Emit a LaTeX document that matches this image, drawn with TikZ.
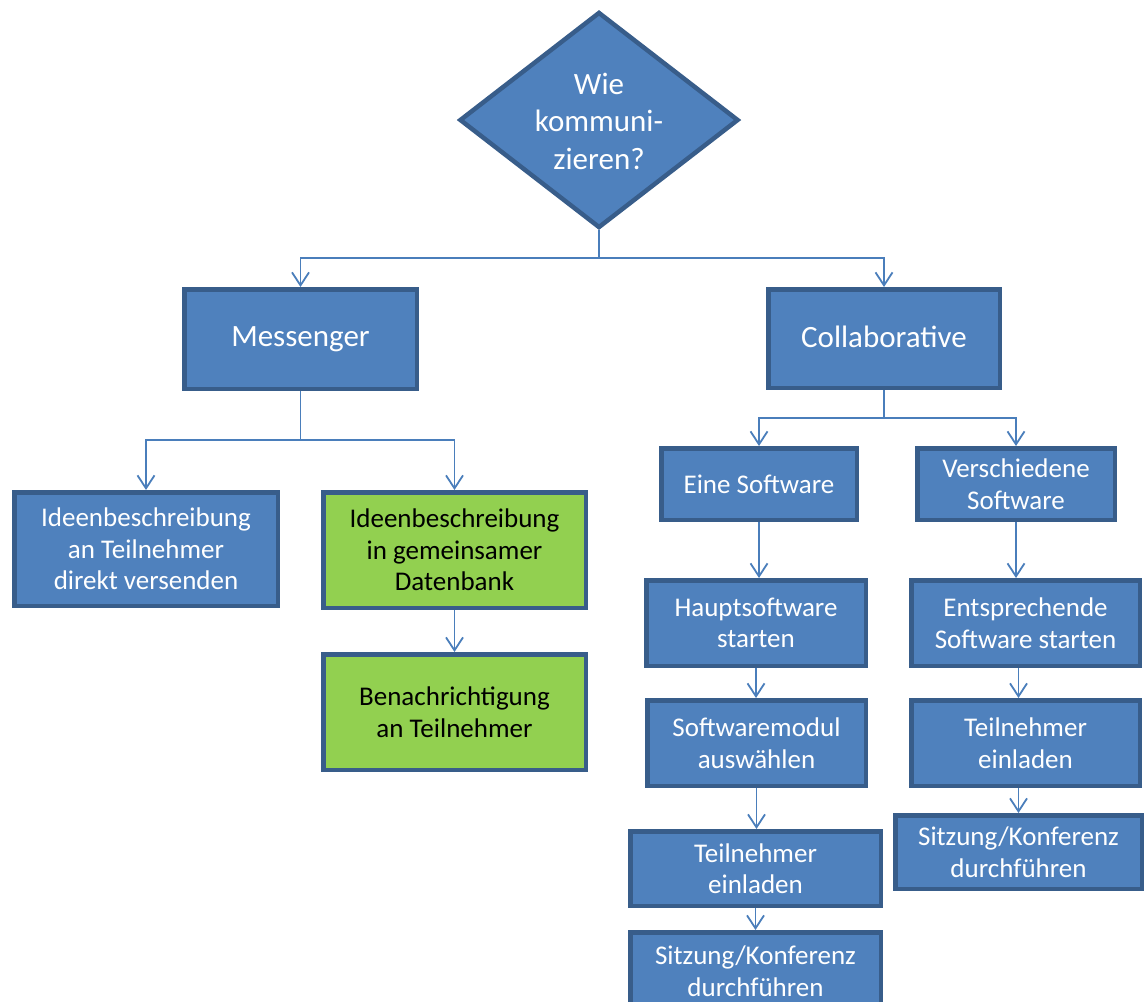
\documentclass[tikz,border=0pt]{standalone}
\usepackage{fontspec}
\setmainfont{Carlito}
\usetikzlibrary{shapes.geometric,arrows.meta}
\definecolor{bfill}{RGB}{79,129,189}
\definecolor{bdraw}{RGB}{56,93,138}
\definecolor{lcol}{RGB}{74,126,187}
\definecolor{gfill}{RGB}{146,208,80}
\begin{document}
\begin{tikzpicture}[x=1pt,y=-1pt,
  box/.style={draw=bdraw, line width=4.5pt, fill=bfill, text=white, align=center, inner sep=0pt, font=\fontsize{27}{31.5}\selectfont},
  bigbox/.style={box, font=\fontsize{31}{37}\selectfont, text depth=4pt},
  greenbox/.style={box, fill=gfill, text=black},
  conn/.style={draw=lcol, line width=1.8pt},
  arr/.style={conn, -{Straight Barb[length=13pt,width=17pt]}}]
\useasboundingbox (0,0) rectangle (1144,1002);
\clip (0,0) rectangle (1144,1002);
% decision
\node[diamond, draw=bdraw, fill=bfill, line width=4.5pt, minimum width=279pt, minimum height=216pt, inner sep=0pt] (q) at (599,120) {};
\node[text=white, align=center, inner sep=0pt, font=\fontsize{31}{37.5}\selectfont] (qt) at (599,121) {Wie\\kommuni-\\zieren?};
% main boxes
\node[bigbox, minimum width=232.5pt, minimum height=99.5pt] (mess) at (300.5,339) {Messenger};
\node[bigbox, minimum width=231.5pt, minimum height=98.5pt] (coll) at (884,338.5) {Collaborative};
% messenger branch
\node[box, minimum width=263.5pt, minimum height=113.5pt] (ideeA) at (146,549) {Ideenbeschreibung\\an Teilnehmer\\direkt versenden};
\node[greenbox, minimum width=262.5pt, minimum height=115.5pt] (ideeB) at (454.5,550) {Ideenbeschreibung\\in gemeinsamer\\Datenbank};
\node[greenbox, minimum width=262.5pt, minimum height=115.5pt] (bena) at (454.5,712) {Benachrichtigung\\an Teilnehmer};
% collaborative branch
\node[box, minimum width=195.5pt, minimum height=71.5pt] (eine) at (759,484) {Eine Software};
\node[box, minimum width=197.5pt, minimum height=71.5pt] (versch) at (1016,484) {Verschiedene\\Software};
\node[box, minimum width=219.5pt, minimum height=85.5pt] (haupt) at (756,623) {Hauptsoftware\\starten};
\node[box, minimum width=228.5pt, minimum height=85.5pt] (entspr) at (1025.5,623) {Entsprechende\\Software starten};
\node[box, minimum width=218.5pt, minimum height=85.5pt] (modul) at (756.5,743) {Softwaremodul\\auswählen};
\node[box, minimum width=228.5pt, minimum height=85.5pt] (teilR) at (1025.5,743) {Teilnehmer\\einladen};
\node[box, minimum width=250.5pt, minimum height=74.5pt] (teilL) at (755.5,868.5) {Teilnehmer\\einladen};
\node[box, minimum width=246.5pt, minimum height=73.5pt] (sitzR) at (1018.5,852) {Sitzung/Konferenz\\durchführen};
\node[box, minimum width=250.5pt, minimum height=77.5pt] (sitzL) at (755.5,971) {Sitzung/Konferenz\\durchführen};
% connectors
\coordinate (j1) at (599,258);
\draw[conn] (q.south) -- (j1);
\draw[arr] (j1) -| (mess.north);
\draw[arr] (j1) -| (coll.north);
\coordinate (j2) at (300.5,440);
\draw[conn] (mess.south) -- (j2);
\draw[arr] (j2) -| (ideeA.north);
\draw[arr] (j2) -| (ideeB.north);
\draw[arr] (ideeB.south) -- (bena.north);
\coordinate (j3) at (884,418);
\draw[conn] (coll.south) -- (j3);
\draw[arr] (j3) -| (eine.north);
\draw[arr] (j3) -| (versch.north);
\draw[arr] (eine.south) -- (eine.south |- haupt.north);
\draw[arr] (haupt.south) -- (haupt.south |- modul.north);
\draw[arr] (modul.south) -- (modul.south |- teilL.north);
\draw[arr] (teilL.south) -- (teilL.south |- sitzL.north);
\draw[arr] (versch.south) -- (versch.south |- entspr.north);
\draw[arr] (entspr.south -| sitzR.north) -- (teilR.north -| sitzR.north);
\draw[arr] (teilR.south -| sitzR.north) -- (sitzR.north);
\end{tikzpicture}
\end{document}
